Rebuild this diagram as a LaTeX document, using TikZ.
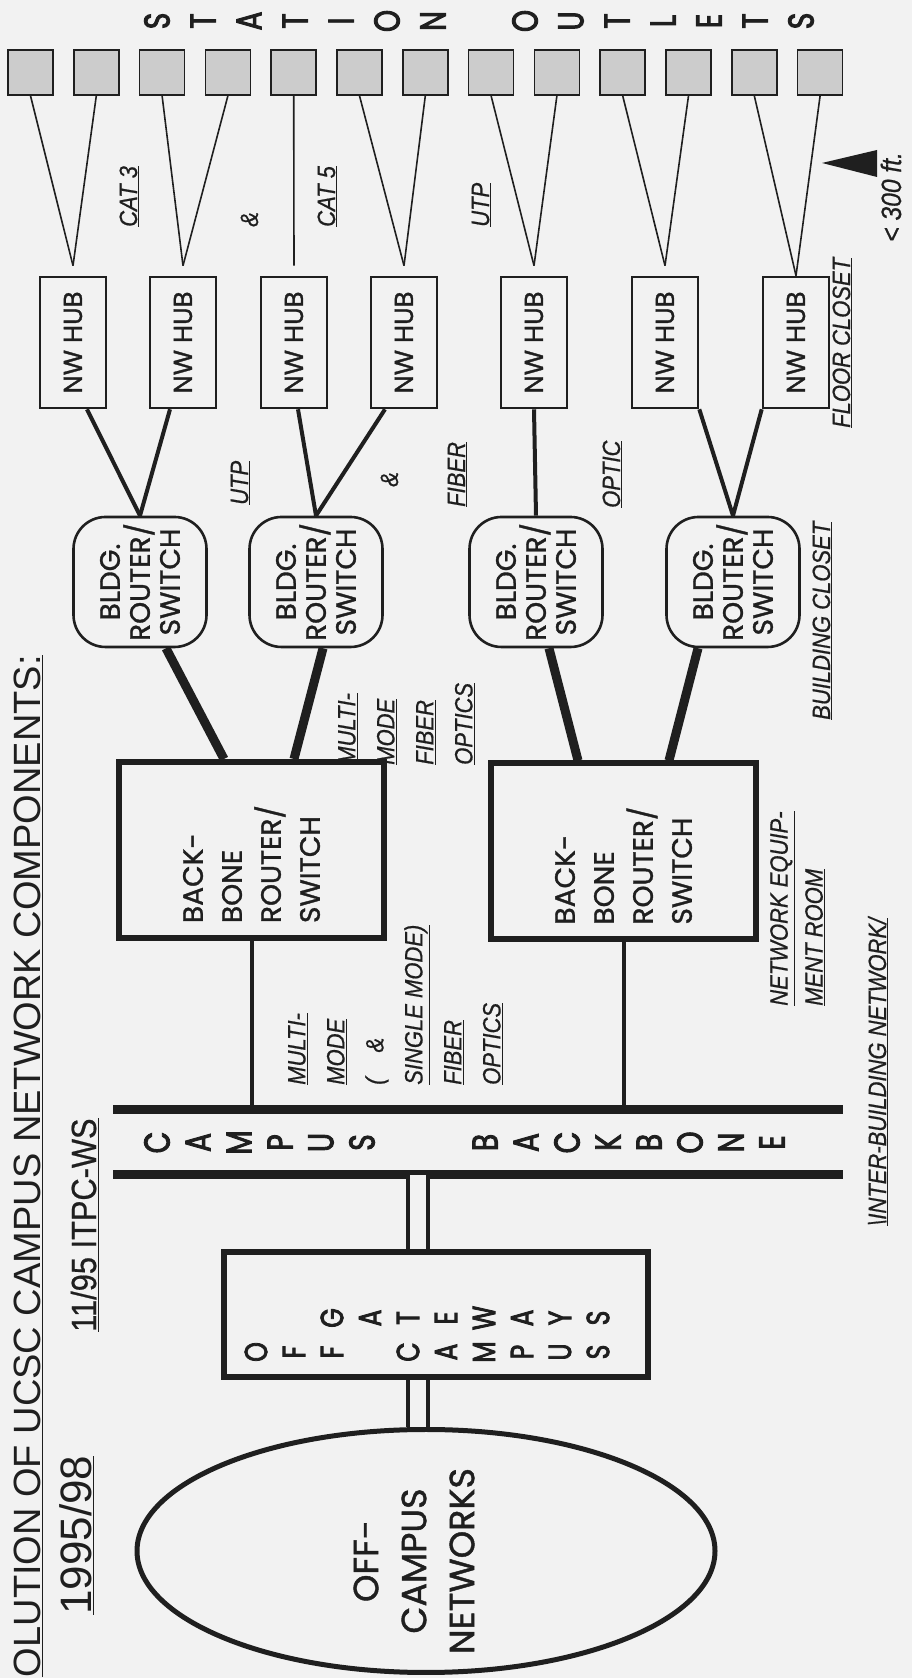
\documentclass[tikz,border=0pt]{standalone}
\usepackage{fontspec}
\setmainfont{Liberation Sans}
\newfontfamily\geofont[FakeBold=1.2]{Poppins}
\newfontfamily\tallfont[FakeStretch=0.78,FakeBold=2.5]{Poppins}
\newfontfamily\notefont[FakeStretch=0.88,FakeBold=0.6]{Liberation Sans}
\usepackage{tikz}
\usetikzlibrary{calc,shapes.geometric}

\definecolor{paper}{gray}{0.95}
\definecolor{ink}{gray}{0.12}

\tikzset{
  outlet/.style={draw=ink, line width=1.6pt, fill=black!20, minimum size=45pt, inner sep=0pt},
  hub/.style={draw=ink, line width=2.6pt, minimum width=131pt, minimum height=66pt, inner sep=0pt,
    text=ink, font=\geofont\fontsize{26}{28}\selectfont},
  bldg/.style={draw=ink, line width=2.6pt, rounded corners=32pt, minimum width=130pt, minimum height=133pt,
    inner sep=0pt, align=center, text=ink, font=\geofont\fontsize{28}{30}\selectfont},
  bbrouter/.style={draw=ink, line width=6pt, minimum width=176pt, minimum height=265pt, inner sep=0pt,
    text width=146pt, align=left, text=ink, font=\geofont\fontsize{28}{39}\selectfont},
  gwbox/.style={draw=ink, line width=6pt, minimum width=125pt, minimum height=424pt},
  offnet/.style={draw=ink, ellipse, line width=5pt, minimum width=243pt, minimum height=578pt},
  note/.style={inner sep=0pt, align=left, text=ink, font=\notefont\itshape\fontsize{25}{39}\selectfont},
  spaced/.style={inner sep=0pt, text=ink, font=\tallfont\fontsize{36}{36}\selectfont},
  wire/.style={draw=ink, line width=1.6pt},
  link/.style={draw=ink, line width=4pt},
  fat/.style={draw=ink, line width=9pt},
  dbl/.style={draw=ink, line width=4pt, double=paper, double distance=16pt},
}

\begin{document}
\begin{tikzpicture}[x=1pt,y=1pt]
  \useasboundingbox (0,0) rectangle (912,1678);
  \fill[paper] (0,0) rectangle (912,1678);

  \begin{scope}[rotate=90, transform shape]

    % headings
    \node[anchor=base east, inner sep=0pt, text=ink, font=\fontsize{38}{40}\selectfont] (title) at (1023,-40)
      {\underline{OLUTION OF UCSC CAMPUS NETWORK COMPONENTS:}};
    \node[anchor=base west, inner sep=0pt, text=ink, font=\fontsize{44}{46}\selectfont] (years) at (63,-91)
      {\underline{1995/98}};
    \node[anchor=base west, inner sep=0pt, text=ink, font=\notefont\fontsize{35}{37}\selectfont] (stamp) at (346,-96)
      {\underline{11/95 ITPC-WS}};

    % station outlets
    \foreach \i in {0,...,12}
      \node[outlet] (o\i) at (1605.5,{-30.5-65.8*\i}) {};
    \foreach \c [count=\k from 0] in {S,T,A,T,I,O,N,{},O,U,T,L,E,T,S}
      \node[spaced] (st\k) at (1657,{-157-46*\k}) {\c};

    % floor closet hubs
    \foreach \n/\y in {1/73,2/183,3/294,4/404,5/534,6/665,7/796}
      \node[hub] (h\n) at (1335.5,-\y) {NW HUB};
    \foreach \n in {1,...,6}
      \coordinate (t\n) at ($(h\n.east)+(10,0)$);
    \coordinate (t7) at (h7.east);
    \foreach \o/\n in {0/1,1/1,2/2,3/2,4/3,5/4,6/4,7/5,8/5,9/6,10/6,11/7,12/7}
      \draw[wire] (o\o.west) -- (t\n);

    % building routers
    \foreach \n/\y in {1/140,2/316,3/536,4/733}
      \node[bldg] (r\n) at (1096,-\y) {BLDG.\\ROUTER/\\SWITCH};
    \draw[link] (r1.east) -- ($(h1.west)+(0,-14)$);
    \draw[link] (r1.east) -- ($(h2.west)+(0,13)$);
    \draw[link] (r2.east) -- ($(h3.west)+(0,-4)$);
    \draw[link] (r2.east) -- ($(h4.west)+(0,19)$);
    \draw[link] (r3.east) -- (h5.west);
    \draw[link] (r4.east) -- (h6.south west);
    \draw[link] (r4.east) -- (h7.north west);

    % backbone routers
    \node[bbrouter] (bb1) at (828,-251.5) {BACK-\\BONE\\ROUTER/\\SWITCH};
    \node[bbrouter] (bb2) at (826.5,-623.5) {BACK-\\BONE\\ROUTER/\\SWITCH};
    \draw[fat] ($(bb1.east)+(0,27.5)$) -- ($(r1.west)+(0,-26)$);
    \draw[fat] ($(bb1.east)+(0,-42.5)$) -- ($(r2.west)+(0,-7)$);
    \draw[fat] ($(bb2.east)+(0,45.5)$) -- ($(r3.west)+(0,-13)$);
    \draw[fat] ($(bb2.east)+(0,-45.5)$) -- ($(r4.west)+(0,35)$);

    % campus backbone
    \coordinate (upA) at (568,-113);
    \coordinate (upB) at (568,-843);
    \coordinate (loA) at (503,-113);
    \coordinate (loB) at (503,-843);
    \draw[fat] (upA) -- (upB);
    \draw[fat] (loA) -- (loB);
    \foreach \c [count=\k from 0] in {C,A,M,P,U,S,{},{},B,A,C,K,B,O,N,E}
      \node[spaced] (cb\k) at (535.5,{-157-41*\k}) {\c};
    \draw[link] (bb1.west) -- (bb1.west -| upA);
    \draw[link] (bb2.west) -- (bb2.west -| upA);

    % gateways and off-campus networks
    \node[gwbox] (gw) at (363.5,-436) {};
    \foreach \c [count=\k from 0] in {O,F,F,{},C,A,M,P,U,S}
      \node[spaced, font=\tallfont\fontsize{32}{32}\selectfont] (gl\k) at (326,{-256-38*\k}) {\c};
    \foreach \c [count=\k from 0] in {{},{},G,A,T,E,W,A,Y,S}
      \node[spaced, font=\tallfont\fontsize{32}{32}\selectfont] (gr\k) at (360,{-256-38*\k}) {\c};
    \node[offnet] (net) at (127,-426) {};
    \node[align=center, inner sep=0pt, text=ink, font=\geofont\fontsize{35}{48}\selectfont] (nettext)
      at ($(net.center)+(-10,12)$) {OFF-\\CAMPUS\\NETWORKS};
    \coordinate (gwlink) at ($(gw.center)+(0,18)$);
    \draw[dbl] (net.east |- gwlink) -- (gw.west |- gwlink);
    \draw[dbl] (gw.east |- gwlink) -- (loA |- gwlink);

    % media and place labels
    \node[note, anchor=base west] (cat3) at (1451,-137) {\underline{CAT 3}};
    \node[note, anchor=base west] (amp1) at (1451,-258) {\&};
    \node[note, anchor=base west] (cat5) at (1451,-335) {\underline{CAT 5}};
    \node[note, anchor=base west] (utp1) at (1451,-489) {\underline{UTP}};
    \node[note, anchor=base west] (utp2) at (1173,-248) {\underline{UTP}};
    \node[note, anchor=base west] (amp2) at (1191,-398) {\&};
    \node[note, anchor=base west] (fib) at (1171,-465) {\underline{FIBER}};
    \node[note, anchor=base west] (opt) at (1170,-620) {\underline{OPTIC}};
    \node[note, anchor=base west] (floor) at (1250,-850) {\underline{FLOOR CLOSET}};
    \node[note, anchor=base west] (bldgcl) at (958,-830) {\underline{BUILDING CLOSET}};
    \node[note, anchor=north west] (mmf) at (913,-338)
      {\underline{MULTI-}\\\underline{MODE}\\\underline{FIBER}\\\underline{OPTICS}};
    \node[note, anchor=north west] (smf) at (593,-288)
      {\underline{MULTI-}\\\underline{MODE}\\(\quad\&\\\underline{SINGLE MODE)}\\\underline{FIBER}\\\underline{OPTICS}};
    \node[note, anchor=north west, font=\notefont\itshape\fontsize{25}{35}\selectfont] (room) at (672,-770)
      {\underline{NETWORK EQUIP-}\\\underline{MENT ROOM}};
    \node[note, anchor=base west] (inter) at (452,-886) {\underline{\textbackslash INTER-BUILDING NETWORK/}};
    \node[note, anchor=base west, font=\notefont\itshape\fontsize{28}{30}\selectfont] (reach) at (1436,-901) {< 300 ft.};
    \fill[ink] (1515,-822) -- (1501,-877) -- (1528,-877) -- cycle;

  \end{scope}
\end{tikzpicture}
\end{document}
